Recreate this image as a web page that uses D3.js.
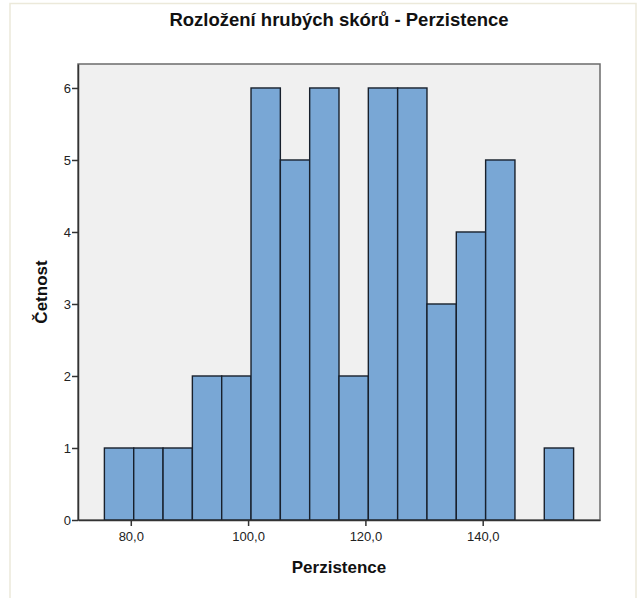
<!DOCTYPE html>
<html>
<head>
<meta charset="utf-8">
<script src="https://cdn.jsdelivr.net/npm/d3@7"></script>
<style>
    body { margin: 0; background: #fff; }
    svg { font-family: "Liberation Sans", Arial, sans-serif; }
</style>
</head>
<body>
<svg width="640" height="598"></svg>
<script>
// histogram bins (lower edge) and counts, bin width 5
const binStarts = [75.5, 80.5, 85.5, 90.5, 95.5, 100.5, 105.5, 110.5, 115.5, 120.5, 125.5, 130.5, 135.5, 140.5, 145.5, 150.5];
const counts    = [1, 1, 1, 2, 2, 6, 5, 6, 2, 6, 6, 3, 4, 5, 0, 1];
const binWidth = 5;
const xTicks = [80, 100, 120, 140];
const yTicks = [0, 1, 2, 3, 4, 5, 6];

const svg = d3.select("svg"),
    width = +svg.attr("width"),
    height = +svg.attr("height");

const plot = { left: 78, right: 600, top: 64, bottom: 520 };

const x = d3.scaleLinear().domain([71, 160]).range([plot.left, plot.right]);
const y = d3.scaleLinear().domain([0, 6.333]).range([plot.bottom, plot.top]);

const cz = d3.formatLocale({ decimal: ",", thousands: " ", grouping: [3], currency: ["", " Kč"] });
const fmt = cz.format(".1f");

// outer frame
svg.append("rect")
    .attr("x", 10).attr("y", 3.5)
    .attr("width", 626).attr("height", 600)
    .attr("fill", "none")
    .attr("stroke", "#ece9da")
    .attr("stroke-width", 1.5);

// title
svg.append("text")
    .attr("x", 339).attr("y", 26)
    .attr("text-anchor", "middle")
    .attr("font-size", 18.5)
    .attr("font-weight", "bold")
    .attr("fill", "#111")
    .text("Rozložení hrubých skórů - Perzistence");

// plot background
svg.append("rect")
    .attr("x", plot.left).attr("y", plot.top)
    .attr("width", plot.right - plot.left)
    .attr("height", plot.bottom - plot.top)
    .attr("fill", "#f0f0f0")
    .attr("stroke", "#6b6b6b")
    .attr("stroke-width", 1.5);

// bars
const data = binStarts.map((d, i) => ({ x0: d, x1: d + binWidth, n: counts[i] }))
    .filter(d => d.n > 0);

svg.append("g")
    .selectAll("rect")
    .data(data)
    .enter().append("rect")
    .attr("x", d => x(d.x0))
    .attr("y", d => y(d.n))
    .attr("width", d => x(d.x1) - x(d.x0))
    .attr("height", d => y(0) - y(d.n))
    .attr("fill", "#79a7d5")
    .attr("stroke", "#18202c")
    .attr("stroke-width", 1.4);

// axes
const xAxis = svg.append("g")
    .attr("transform", `translate(0,${plot.bottom})`)
    .call(d3.axisBottom(x).tickValues(xTicks).tickFormat(fmt).tickSize(6).tickSizeOuter(0));

const yAxis = svg.append("g")
    .attr("transform", `translate(${plot.left},0)`)
    .call(d3.axisLeft(y).tickValues(yTicks).tickFormat(d3.format("d")).tickSize(6).tickSizeOuter(0));

[xAxis, yAxis].forEach(a => {
    a.select(".domain").attr("stroke", "#333").attr("stroke-width", 1.5);
    a.selectAll(".tick line").attr("stroke", "#333").attr("stroke-width", 1.5);
    a.selectAll(".tick text")
        .attr("font-family", "Liberation Sans, Arial, sans-serif")
        .attr("font-size", 13)
        .attr("fill", "#222");
});
xAxis.selectAll(".tick text").attr("dy", "0.9em");
yAxis.selectAll(".tick text").attr("x", -7);

// axis labels
svg.append("text")
    .attr("x", 339).attr("y", 573)
    .attr("text-anchor", "middle")
    .attr("font-size", 17)
    .attr("font-weight", "bold")
    .attr("fill", "#111")
    .text("Perzistence");

svg.append("text")
    .attr("transform", `translate(47,${(plot.top + plot.bottom) / 2}) rotate(-90)`)
    .attr("text-anchor", "middle")
    .attr("font-size", 17)
    .attr("font-weight", "bold")
    .attr("fill", "#111")
    .text("Četnost");
</script>
</body>
</html>
